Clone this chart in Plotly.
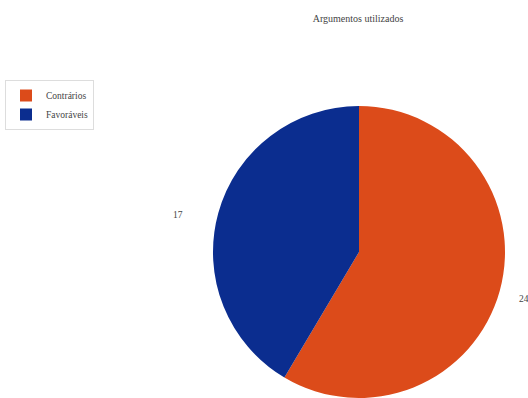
import math
import plotly.graph_objects as go

title = "Argumentos utilizados"
labels = ["Contrários", "Favoráveis"]
values = [24, 17]
colors = ["#DC4B1A", "#0B2D8F"]

W, H = 528, 398
cx, r = 359, 146

fig = go.Figure(go.Pie(
    labels=labels,
    values=values,
    sort=False,
    direction="clockwise",
    rotation=0,
    marker=dict(colors=colors, line=dict(width=0)),
    textinfo="none",
    domain=dict(x=[(cx - r) / W, (cx + r) / W], y=[0, 2 * r / H]),
    hoverinfo="label+value",
))

# value labels placed outside each slice, at the slice's mid angle
total = sum(values)
acc = 0
lab_cx, lab_cy, lab_rx, lab_ry = 351, 257, 172, 160
for v in values:
    mid = (acc + v / 2) / total * 2 * math.pi
    acc += v
    s, c = math.sin(mid), math.cos(mid)
    x = lab_cx + lab_rx * s
    y = lab_cy - lab_ry * c
    fig.add_annotation(
        x=x / W, y=1 - y / H, xref="paper", yref="paper",
        text=str(v), showarrow=False,
        xanchor="left" if s > 0 else "right", yanchor="middle",
        font=dict(family="Liberation Serif", size=9.5, color="#444444"),
    )

fig.update_layout(
    width=W, height=H,
    margin=dict(l=0, r=0, t=0, b=0),
    paper_bgcolor="white",
    plot_bgcolor="white",
    title=dict(text=title, x=358 / W, xanchor="center", y=1 - 18 / H, yanchor="middle",
               font=dict(family="Liberation Serif", size=10, color="#444444")),
    legend=dict(x=5 / W, y=1 - 80 / H, xanchor="left", yanchor="top",
                bordercolor="#DDDDDD", borderwidth=1, bgcolor="white",
                font=dict(family="Liberation Serif", size=9.5, color="#444444"),
                itemwidth=30, tracegroupgap=0),
    showlegend=True,
)

fig.write_html("out.html")
